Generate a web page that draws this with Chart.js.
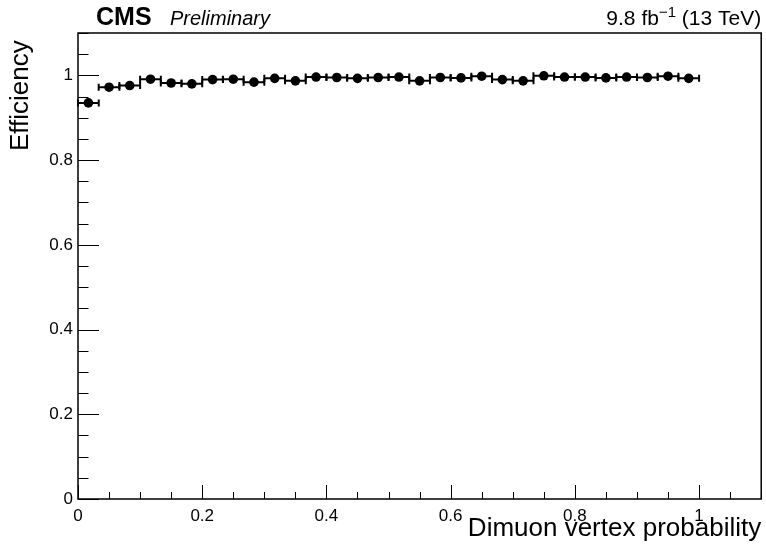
<!DOCTYPE html>
<html>
<head>
<meta charset="utf-8">
<script src="https://cdn.jsdelivr.net/npm/chart.js@4.4.1/dist/chart.umd.min.js"></script>
<style>
  html, body { margin: 0; padding: 0; background: #fff; }
  #wrap { width: 766px; height: 551px; }
</style>
</head>
<body>
<div id="wrap"><canvas id="eff-chart" width="766" height="551"></canvas></div>
<script>
const binCenters = [0.0167, 0.05, 0.0833, 0.1167, 0.15, 0.1833, 0.2167, 0.25, 0.2833, 0.3167,
  0.35, 0.3833, 0.4167, 0.45, 0.4833, 0.5167, 0.55, 0.5833, 0.6167, 0.65,
  0.6833, 0.7167, 0.75, 0.7833, 0.8167, 0.85, 0.8833, 0.9167, 0.95, 0.9833];
const efficiency = [0.935, 0.972, 0.976, 0.991, 0.982, 0.980, 0.990, 0.991, 0.984, 0.993,
  0.987, 0.996, 0.995, 0.993, 0.995, 0.996, 0.987, 0.995, 0.994, 0.998,
  0.990, 0.987, 0.999, 0.996, 0.996, 0.994, 0.996, 0.995, 0.998, 0.993];
const binHalfWidth = 0.0167;
const xTickValues = [0, 0.2, 0.4, 0.6, 0.8, 1];
const xTickLabels = ['0', '0.2', '0.4', '0.6', '0.8', '1'];
const yTickValues = [0, 0.2, 0.4, 0.6, 0.8, 1];
const yTickLabels = ['0', '0.2', '0.4', '0.6', '0.8', '1'];

const FONT = "'Liberation Sans', Arial, Helvetica, sans-serif";

// ROOT style frame with ticks pointing inward, plus horizontal bin error bars
const rootFrame = {
  id: 'rootFrame',
  beforeDatasetsDraw(chart) {
    const {ctx, scales: {x, y}} = chart;
    ctx.save();
    ctx.strokeStyle = '#000';
    ctx.lineWidth = 2;
    binCenters.forEach((c, i) => {
      const x0 = x.getPixelForValue(c - binHalfWidth);
      const x1 = x.getPixelForValue(c + binHalfWidth);
      const py = y.getPixelForValue(efficiency[i]);
      ctx.beginPath();
      ctx.moveTo(x0, py); ctx.lineTo(x1, py);
      ctx.moveTo(x0, py - 3.5); ctx.lineTo(x0, py + 3.5);
      ctx.moveTo(x1, py - 3.5); ctx.lineTo(x1, py + 3.5);
      ctx.stroke();
    });
    ctx.restore();
  },
  afterDraw(chart) {
    const {ctx, chartArea: a, scales: {x, y}} = chart;
    ctx.save();
    ctx.strokeStyle = '#000';
    ctx.lineWidth = 1;
    for (let k = 0; k <= 22; k++) {
      const v = k * 0.05;
      const major = k % 4 === 0;
      const px = Math.round(x.getPixelForValue(v)) + 0.5;
      ctx.beginPath();
      ctx.moveTo(px, a.bottom);
      ctx.lineTo(px, a.bottom - (major ? 14 : 7));
      ctx.stroke();
      const py = Math.round(y.getPixelForValue(v)) + 0.5;
      ctx.beginPath();
      ctx.moveTo(a.left, py);
      ctx.lineTo(a.left + (major ? 21 : 10.5), py);
      ctx.stroke();
    }
    ctx.lineWidth = 1.5;
    ctx.strokeRect(a.left, a.top, a.right - a.left, a.bottom - a.top);

    // header
    ctx.fillStyle = '#000';
    ctx.textBaseline = 'alphabetic';
    ctx.textAlign = 'left';
    ctx.font = 'bold 25px ' + FONT;
    ctx.fillText('CMS', 96, 25);
    ctx.font = 'italic 20px ' + FONT;
    ctx.fillText('Preliminary', 170, 25);

    const p1 = '9.8 fb', p3 = ' (13 TeV)';
    ctx.font = '15px ' + FONT;
    const wSup = ctx.measureText('\u22121').width;
    ctx.font = '21px ' + FONT;
    const w1 = ctx.measureText(p1).width, w3 = ctx.measureText(p3).width;
    const sx = a.right - (w1 + wSup + w3);
    ctx.fillText(p1, sx, 25);
    ctx.font = '15px ' + FONT;
    ctx.fillText('\u22121', sx + w1, 17);
    ctx.font = '21px ' + FONT;
    ctx.fillText(p3, sx + w1 + wSup, 25);
    ctx.restore();
  }
};

new Chart(document.getElementById('eff-chart'), {
  type: 'scatter',
  data: {
    datasets: [{
      data: binCenters.map((c, i) => ({x: c, y: efficiency[i]})),
      backgroundColor: '#000',
      borderColor: '#000',
      pointRadius: 4.8,
      pointHoverRadius: 4.8,
      borderWidth: 0
    }]
  },
  options: {
    responsive: false,
    animation: false,
    layout: {padding: {left: 0, right: 3, top: 33, bottom: 0}},
    plugins: {legend: {display: false}, tooltip: {enabled: false}},
    scales: {
      x: {
        type: 'linear',
        min: 0,
        max: 1.1,
        afterBuildTicks: s => { s.ticks = xTickValues.map(v => ({value: v})); },
        afterFit: s => { s.height = 52; },
        grid: {display: false, drawTicks: false},
        border: {display: false},
        ticks: {
          padding: 7,
          color: '#000',
          font: {family: FONT, size: 17},
          maxRotation: 0,
          callback: (v, i) => xTickLabels[i]
        },
        title: {
          display: true,
          text: 'Dimuon vertex probability',
          align: 'end',
          color: '#000',
          font: {family: FONT, size: 26},
          padding: {top: 0, bottom: 7}
        }
      },
      y: {
        type: 'linear',
        min: 0,
        max: 1.1,
        afterBuildTicks: s => { s.ticks = yTickValues.map(v => ({value: v})); },
        afterFit: s => { s.width = 78; },
        grid: {display: false, drawTicks: false},
        border: {display: false},
        ticks: {
          padding: 5,
          color: '#000',
          font: {family: FONT, size: 17},
          callback: (v, i) => yTickLabels[i]
        },
        title: {
          display: true,
          text: 'Efficiency ',
          align: 'end',
          color: '#000',
          font: {family: FONT, size: 26},
          padding: {top: 5, bottom: 0}
        }
      }
    }
  },
  plugins: [rootFrame]
});
</script>
</body>
</html>
